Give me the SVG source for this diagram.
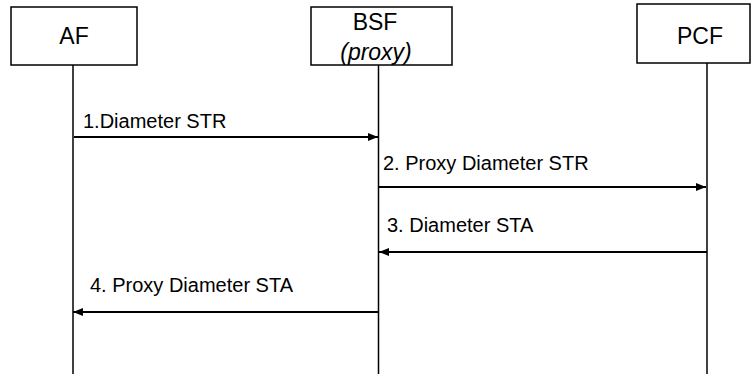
<svg xmlns="http://www.w3.org/2000/svg" width="752" height="374" viewBox="0 0 752 374">
<style>
.box{fill:#fff;stroke:#000;stroke-width:1.5}
.life{stroke:#000;stroke-width:1.5;fill:none}
.msg{stroke:#000;stroke-width:2;fill:none}
.node{font-family:"Liberation Sans",Arial,sans-serif;font-size:23px;fill:#000;text-anchor:middle}
.lbl{font-family:"Liberation Sans",Arial,sans-serif;font-size:20px;fill:#000}
</style>
<defs>
<marker id="ah" viewBox="0 0 10 8" refX="10" refY="4" markerWidth="10" markerHeight="8" markerUnits="userSpaceOnUse" orient="auto">
<path d="M0,0 L10,4 L0,8 z" fill="#000"/>
</marker>
</defs>
<g id="AF">
<rect class="box" x="11" y="7" width="126" height="58"/>
<text class="node" x="74" y="44">AF</text>
<line class="life" x1="73" y1="65" x2="73" y2="374"/>
</g>
<g id="BSF">
<rect class="box" x="311" y="7" width="141" height="58"/>
<text class="node" x="375" y="30">BSF</text>
<text class="node" x="376" y="60" font-style="italic">(proxy)</text>
<line class="life" x1="378.5" y1="65" x2="378.5" y2="374"/>
</g>
<g id="PCF">
<rect class="box" x="637" y="4" width="113" height="59"/>
<text class="node" x="700" y="44">PCF</text>
<line class="life" x1="707" y1="63" x2="707" y2="374"/>
</g>
<g id="connectors">
<line class="msg" x1="74" y1="137" x2="378" y2="137" marker-end="url(#ah)"/>
<text class="lbl" x="83" y="128">1.Diameter STR</text>
<line class="msg" x1="379" y1="187" x2="706" y2="187" marker-end="url(#ah)"/>
<text class="lbl" x="383" y="170">2. Proxy Diameter STR</text>
<line class="msg" x1="707" y1="252" x2="379" y2="252" marker-end="url(#ah)"/>
<text class="lbl" x="387" y="232">3. Diameter STA</text>
<line class="msg" x1="378" y1="312" x2="73" y2="312" marker-end="url(#ah)"/>
<text class="lbl" x="90" y="292">4. Proxy Diameter STA</text>
</g>
</svg>
